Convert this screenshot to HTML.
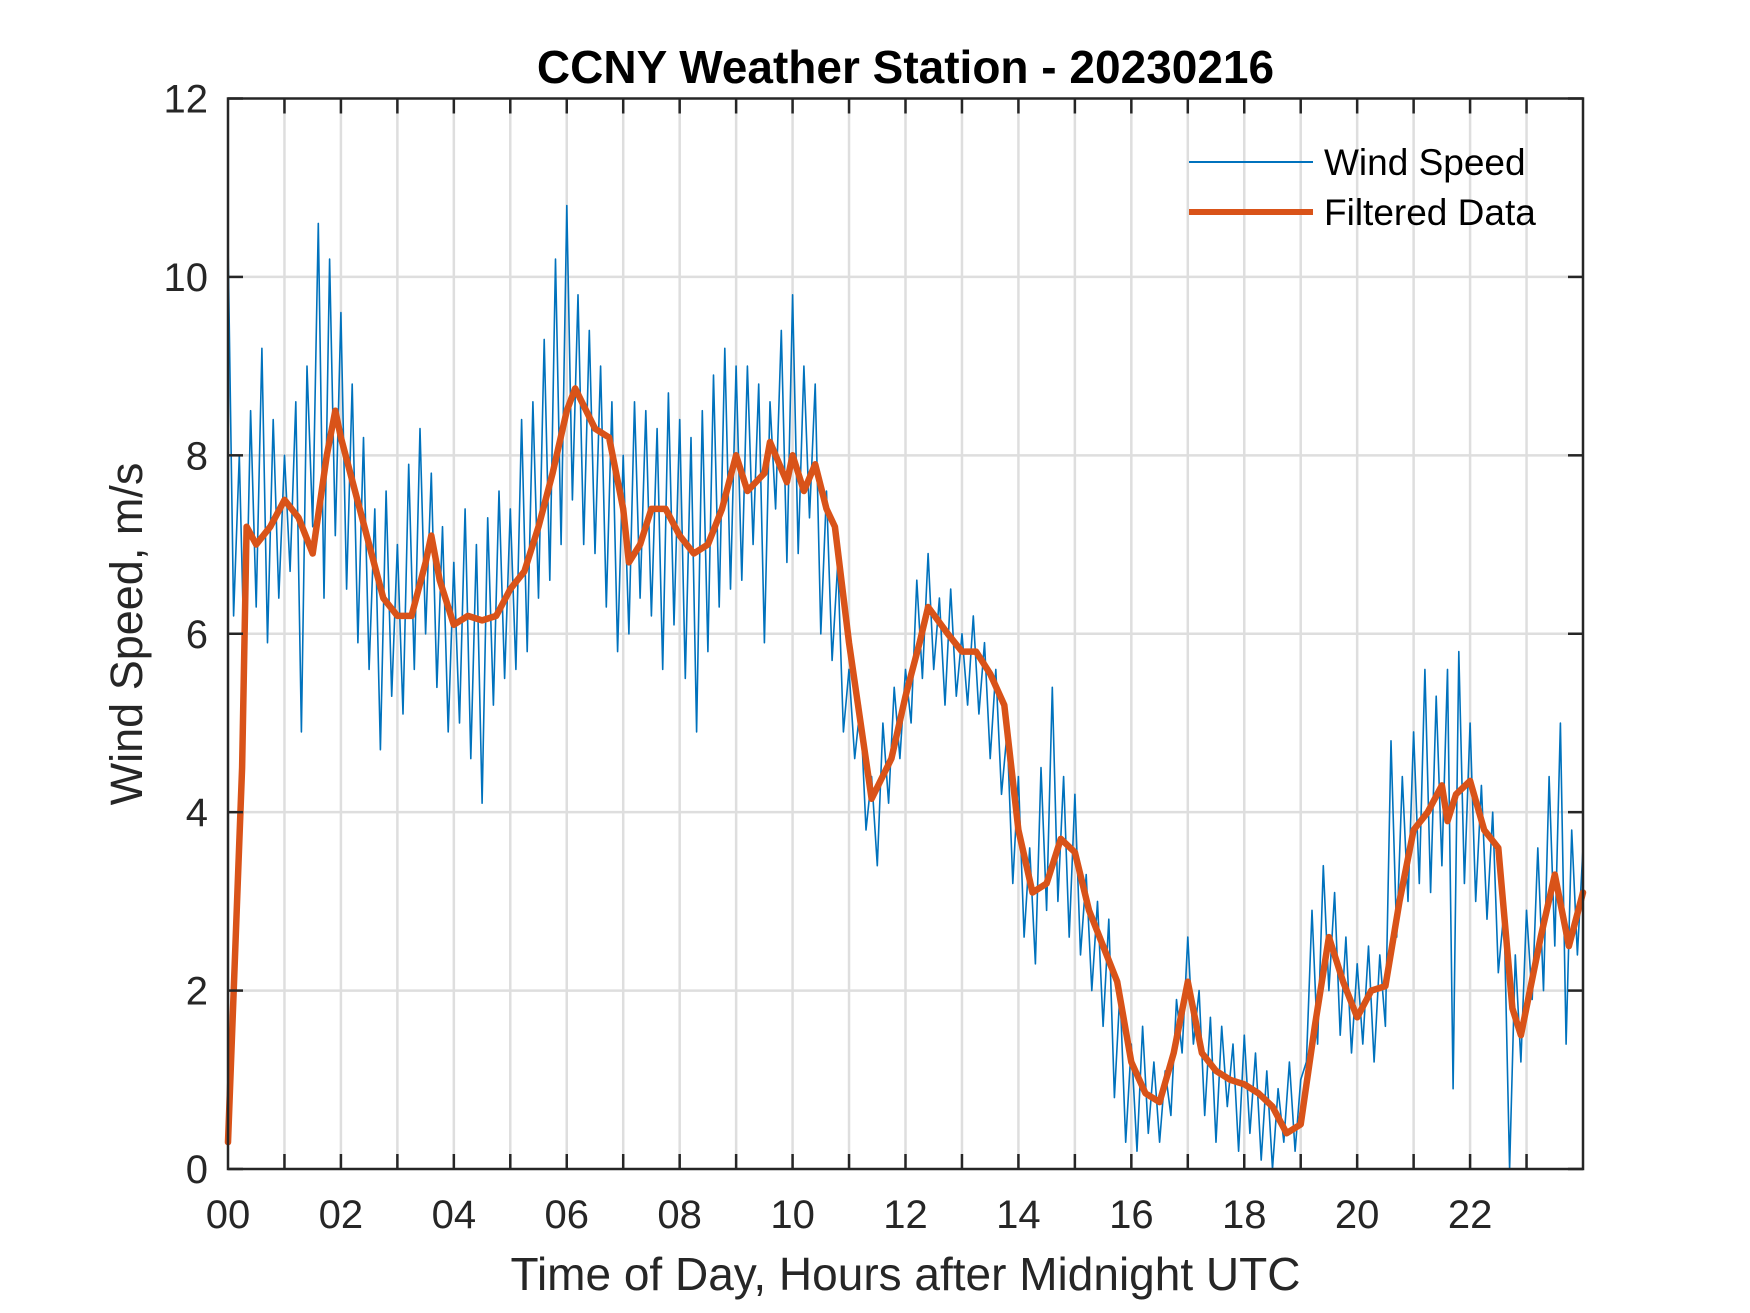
<!DOCTYPE html>
<html><head><meta charset="utf-8"><style>
html,body{margin:0;padding:0;background:#fff;}
svg{display:block;font-family:"Liberation Sans",Arial,sans-serif;}
</style></head><body>
<svg id="chart" width="1750" height="1313" viewBox="0 0 1750 1313" xmlns="http://www.w3.org/2000/svg">
<rect x="0" y="0" width="1750" height="1313" fill="#fff"/>
<text x="905.5" y="83" text-anchor="middle" font-size="46" font-weight="bold" fill="#000">CCNY Weather Station - 20230216</text>
<g id="grid"></g>
<g id="series"></g>
<g id="axes"></g>
<text x="905.5" y="1290" text-anchor="middle" font-size="46" fill="#262626">Time of Day, Hours after Midnight UTC</text>
<text transform="translate(142,634) rotate(-90)" text-anchor="middle" font-size="45" fill="#262626">Wind Speed, m/s</text>
<g>
<line x1="1189" y1="162" x2="1313" y2="162" stroke="#0072BD" stroke-width="2"/>
<text x="1324" y="175" font-size="37" fill="#000">Wind Speed</text>
<line x1="1189" y1="212" x2="1313" y2="212" stroke="#D95319" stroke-width="6"/>
<text x="1324" y="225" font-size="37" fill="#000">Filtered Data</text>
</g>
</svg>
<script>
const xTickLabels = ["00","02","04","06","08","10","12","14","16","18","20","22"];
const xTickValues = [0,2,4,6,8,10,12,14,16,18,20,22];
const yTickValues = [0,2,4,6,8,10,12];
const rawStep = 0.1;
const rawSpeed = [10.4,6.2,8.0,5.4,8.5,6.3,9.2,5.9,8.4,6.4,8.0,
6.7,8.6,4.9,9.0,7.2,10.6,6.4,10.2,7.1,9.6,
6.5,8.8,5.9,8.2,5.6,7.4,4.7,7.6,5.3,7.0,
5.1,7.9,5.6,8.3,6.0,7.8,5.4,7.2,4.9,6.8,
5.0,7.4,4.6,7.0,4.1,7.3,5.2,7.6,5.5,7.4,
5.6,8.4,5.8,8.6,6.4,9.3,6.6,10.2,7.0,10.8,
7.5,9.8,7.0,9.4,6.9,9.0,6.3,8.6,5.8,8.0,
6.0,8.6,6.4,8.5,6.2,8.3,5.6,8.7,6.1,8.4,
5.5,8.2,4.9,8.5,5.8,8.9,6.3,9.2,6.5,9.0,
6.6,9.0,7.0,8.8,5.9,8.6,7.4,9.4,6.8,9.8,
6.9,9.0,7.3,8.8,6.0,7.6,5.7,6.8,4.9,5.6,
4.6,5.2,3.8,4.4,3.4,5.0,4.1,5.4,4.6,5.6,
5.0,6.6,5.5,6.9,5.6,6.4,5.2,6.5,5.3,6.0,
5.2,6.2,5.1,5.9,4.6,5.6,4.2,4.9,3.2,4.4,
2.6,3.6,2.3,4.5,2.9,5.4,3.0,4.4,2.6,4.2,
2.4,3.3,2.0,3.0,1.6,2.8,0.8,2.0,0.3,1.4,
0.2,1.6,0.4,1.2,0.3,1.1,0.6,1.9,1.3,2.6,
1.4,2.0,0.6,1.7,0.3,1.6,0.7,1.4,0.2,1.5,
0.4,1.3,0.1,1.1,0.0,0.9,0.3,1.2,0.2,1.0,
1.2,2.9,1.4,3.4,2.0,3.1,1.5,2.6,1.3,2.3,
1.4,2.5,1.2,2.4,1.6,4.8,2.6,4.4,3.0,4.9,
3.2,5.6,3.1,5.3,3.4,5.6,0.9,5.8,3.2,5.0,
3.0,4.3,2.8,4.0,2.2,2.9,0.0,2.4,1.2,2.9,
1.9,3.6,2.0,4.4,2.5,5.0,1.4,3.8,2.4,3.6];
const filteredHours = [0,0.25,0.33,0.5,0.75,1.0,1.25,1.5,1.75,1.9,2.0,2.25,2.5,2.75,3.0,3.25,3.5,3.6,3.75,4.0,4.25,4.5,4.75,5.0,5.25,5.5,5.75,6.0,6.15,6.5,6.75,7.0,7.1,7.3,7.5,7.75,8.0,8.25,8.5,8.75,9.0,9.2,9.5,9.6,9.9,10.0,10.2,10.4,10.6,10.75,11.0,11.25,11.4,11.75,12.0,12.25,12.4,12.75,13.0,13.25,13.5,13.75,14.0,14.25,14.5,14.75,15.0,15.25,15.5,15.75,16.0,16.25,16.5,16.75,17.0,17.25,17.5,17.75,18.0,18.25,18.5,18.75,19.0,19.25,19.5,19.75,20.0,20.25,20.5,20.75,21.0,21.25,21.5,21.6,21.75,22.0,22.25,22.5,22.75,22.9,23.25,23.5,23.75,24.0];
const filteredSpeed = [0.3,4.5,7.2,7.0,7.2,7.5,7.3,6.9,8.0,8.5,8.2,7.6,7.0,6.4,6.2,6.2,6.8,7.1,6.6,6.1,6.2,6.15,6.2,6.5,6.7,7.2,7.8,8.5,8.75,8.3,8.2,7.4,6.8,7.0,7.4,7.4,7.1,6.9,7.0,7.4,8.0,7.6,7.8,8.15,7.7,8.0,7.6,7.9,7.4,7.2,5.9,4.8,4.15,4.6,5.3,5.9,6.3,6.0,5.8,5.8,5.55,5.2,3.8,3.1,3.2,3.7,3.55,2.9,2.5,2.1,1.2,0.85,0.75,1.3,2.1,1.3,1.1,1.0,0.95,0.85,0.7,0.4,0.5,1.6,2.6,2.1,1.7,2.0,2.05,3.0,3.8,4.0,4.3,3.9,4.2,4.35,3.8,3.6,1.8,1.5,2.6,3.3,2.5,3.1];

const L=228,R=1583,T=98.5,B=1169;
const xs=h=>L+(h/24)*(R-L);
const ys=v=>B-(v/12)*(B-T);
const NS="http://www.w3.org/2000/svg";
function mk(tag,attrs,parent){const e=document.createElementNS(NS,tag);for(const k in attrs)e.setAttribute(k,attrs[k]);parent.appendChild(e);return e;}
const grid=document.getElementById('grid'),axes=document.getElementById('axes'),series=document.getElementById('series');
for(let h=1;h<24;h++){
  const gl=mk('line',{x1:xs(h),y1:T,x2:xs(h),y2:B,stroke:'#dedede','stroke-width':2.5},grid);
  
  
}
yTickValues.forEach(v=>{
  if(v===0||v===12)return;
  const gl=mk('line',{x1:L,y1:ys(v),x2:R,y2:ys(v),stroke:'#dedede','stroke-width':2.5},grid);
  
  
});
let d='';
rawSpeed.forEach((v,i)=>{d+=(i?'L':'M')+xs(i*rawStep).toFixed(1)+','+ys(v).toFixed(1);});
const raw=mk('path',{d:d,fill:'none',stroke:'#0072BD','stroke-width':1.6,'stroke-linejoin':'round'},series);


let d2='';
filteredHours.forEach((h,i)=>{d2+=(i?'L':'M')+xs(h).toFixed(1)+','+ys(filteredSpeed[i]).toFixed(1);});
const filt=mk('path',{d:d2,fill:'none',stroke:'#D95319','stroke-width':6.5,'stroke-linejoin':'round','stroke-linecap':'round'},series);


for(let h=1;h<24;h++){
  const t1=mk('line',{x1:xs(h),y1:B,x2:xs(h),y2:B-15,stroke:'#262626','stroke-width':2.5},axes);
  
  
  const t2=mk('line',{x1:xs(h),y1:T,x2:xs(h),y2:T+15,stroke:'#262626','stroke-width':2.5},axes);
  
  
}
xTickValues.forEach((h,i)=>{
  const t=mk('text',{x:xs(h),y:1228,'text-anchor':'middle','font-size':40,fill:'#262626'},axes);
  t.textContent=xTickLabels[i];
  
  
});
yTickValues.forEach(v=>{
  const t1=mk('line',{x1:L,y1:ys(v),x2:L+15,y2:ys(v),stroke:'#262626','stroke-width':2.5},axes);
  
  
  const t2=mk('line',{x1:R,y1:ys(v),x2:R-15,y2:ys(v),stroke:'#262626','stroke-width':2.5},axes);
  
  
  const t=mk('text',{x:208,y:ys(v)+14,'text-anchor':'end','font-size':40,fill:'#262626'},axes);
  t.textContent=String(v);
  
  
});
const box=mk('rect',{x:L,y:T,width:R-L,height:B-T,fill:'none',stroke:'#262626','stroke-width':2.5},axes);


</script>
</body></html>
